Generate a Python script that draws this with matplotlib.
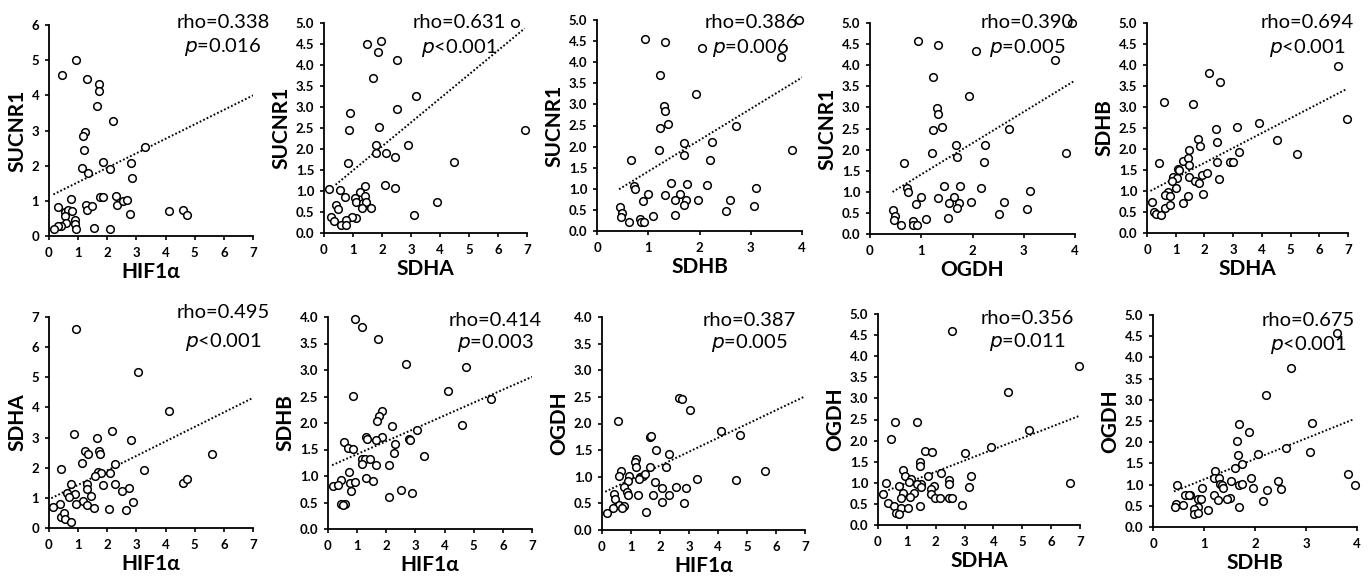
import matplotlib
matplotlib.use("Agg")
import matplotlib.pyplot as plt
import numpy as np

plt.rcParams['font.family'] = ['Lato', 'DejaVu Sans']

# ---------------- data ----------------
# Panel 1: SUCNR1 vs HIF1a
p1_x = [0.92, 0.44, 1.31, 1.70, 1.72, 1.64, 2.19, 1.24, 1.18, 3.28, 1.19, 1.84, 2.82, 1.14, 1.33,
        2.08, 2.86, 0.31, 0.77, 1.75, 1.86, 2.30, 2.32, 2.55, 2.66, 1.26, 1.31, 1.46, 2.78, 4.13,
        4.60, 4.75, 0.56, 0.65, 0.78, 0.54, 0.88, 0.90, 0.60, 0.42, 0.31, 0.17, 0.93, 1.54, 2.09]
p1_y = [5.00, 4.57, 4.47, 4.32, 4.13, 3.70, 3.27, 2.96, 2.84, 2.54, 2.45, 2.10, 2.08, 1.93, 1.80,
        1.90, 1.66, 0.82, 1.04, 1.11, 1.11, 1.13, 0.88, 0.99, 1.01, 0.88, 0.73, 0.85, 0.63, 0.72,
        0.75, 0.59, 0.68, 0.73, 0.70, 0.56, 0.45, 0.35, 0.37, 0.29, 0.29, 0.21, 0.21, 0.22, 0.20]

# Panel 2: SUCNR1 vs SDHA
p2_x = [6.60, 1.47, 1.95, 1.85, 2.53, 1.68, 3.18, 2.51, 0.90, 1.90, 0.87, 6.92, 1.78, 2.89, 1.80,
        2.14, 2.44, 0.83, 4.48, 0.17, 0.56, 1.40, 2.09, 2.44, 0.71, 1.23, 1.07, 1.40, 1.10, 1.33,
        1.44, 1.31, 1.61, 3.89, 0.43, 0.48, 0.25, 0.33, 1.09, 0.97, 0.77, 0.60, 0.77, 3.10]
p2_y = [5.00, 4.49, 4.56, 4.31, 4.13, 3.69, 3.26, 2.96, 2.85, 2.53, 2.45, 2.46, 2.09, 2.09, 1.91,
        1.91, 1.81, 1.67, 1.69, 1.05, 1.02, 1.12, 1.14, 1.08, 0.85, 0.98, 0.83, 0.87, 0.73, 0.71,
        0.73, 0.59, 0.59, 0.73, 0.66, 0.56, 0.39, 0.29, 0.36, 0.38, 0.30, 0.20, 0.20, 0.44]

# Panel 3: SUCNR1 vs SDHB
p3_x = [3.95, 0.93, 1.33, 2.05, 3.59, 1.22, 1.93, 1.30, 1.33, 1.23, 1.39, 2.71, 1.69, 2.24, 1.21,
        1.69, 3.81, 0.67, 2.21, 1.45, 1.76, 2.15, 0.73, 0.75, 3.11, 0.99, 1.33, 1.62, 0.89, 1.53,
        1.74, 1.98, 2.60, 1.69, 3.06, 2.51, 1.52, 0.45, 0.49, 0.46, 0.62, 0.83, 0.86, 0.91, 1.10]
p3_y = [5.00, 4.56, 4.48, 4.34, 4.13, 3.70, 3.25, 2.97, 2.85, 2.45, 2.53, 2.49, 2.09, 2.10, 1.91,
        1.81, 1.93, 1.68, 1.69, 1.14, 1.12, 1.10, 1.06, 0.99, 1.02, 0.87, 0.85, 0.87, 0.71, 0.73,
        0.73, 0.74, 0.74, 0.62, 0.59, 0.47, 0.39, 0.57, 0.43, 0.32, 0.21, 0.28, 0.21, 0.21, 0.35]

# Panel 4: SUCNR1 vs OGDH
p4_x = [3.95, 0.94, 1.33, 2.06, 3.60, 1.22, 1.94, 1.30, 1.33, 1.23, 1.40, 2.72, 1.68, 2.24, 1.20,
        1.70, 3.82, 0.67, 2.22, 1.45, 1.76, 2.16, 0.72, 0.74, 3.12, 0.99, 1.33, 1.63, 0.89, 1.54,
        1.74, 1.98, 2.61, 1.70, 3.06, 2.52, 1.52, 0.45, 0.48, 0.46, 0.60, 0.83, 0.84, 0.91, 1.09]
p4_y = [5.00, 4.57, 4.48, 4.34, 4.13, 3.71, 3.26, 2.99, 2.85, 2.46, 2.54, 2.49, 2.10, 2.11, 1.92,
        1.82, 1.93, 1.69, 1.70, 1.14, 1.13, 1.10, 1.08, 1.00, 1.03, 0.88, 0.85, 0.87, 0.72, 0.74,
        0.74, 0.76, 0.75, 0.62, 0.60, 0.47, 0.39, 0.57, 0.43, 0.33, 0.21, 0.31, 0.21, 0.21, 0.35]

# Panel 5: SDHB vs SDHA
p5_x = [6.65, 2.16, 2.55, 0.58, 1.61, 6.97, 2.42, 3.12, 3.90, 1.79, 2.44, 4.51, 1.86, 1.47, 3.20,
        5.21, 0.43, 1.27, 1.42, 1.46, 2.44, 2.89, 2.98, 1.08, 1.10, 1.46, 0.89, 1.04, 0.86, 2.51,
        1.91, 2.10, 1.68, 1.81, 1.01, 0.73, 0.64, 0.81, 1.96, 1.42, 0.17, 1.24, 0.61, 0.81, 0.23,
        0.32, 0.50]
p5_y = [3.97, 3.82, 3.60, 3.11, 3.06, 2.72, 2.47, 2.52, 2.61, 2.25, 2.16, 2.22, 2.06, 1.98, 1.94,
        1.88, 1.66, 1.72, 1.78, 1.62, 1.69, 1.69, 1.69, 1.52, 1.49, 1.33, 1.34, 1.31, 1.23, 1.28,
        1.38, 1.44, 1.23, 1.20, 1.08, 0.97, 0.91, 0.89, 0.92, 0.87, 0.73, 0.71, 0.59, 0.67, 0.49,
        0.46, 0.44]

# Panel 6: SDHA vs HIF1a
p6_x = [0.92, 3.05, 4.12, 0.85, 2.17, 1.63, 2.80, 1.23, 1.71, 1.33, 1.76, 5.58, 1.12, 2.26, 0.42,
        3.25, 1.68, 1.79, 2.09, 1.58, 0.77, 1.31, 1.84, 2.28, 4.59, 4.73, 1.29, 2.75, 2.51, 0.63,
        0.88, 0.68, 1.45, 1.17, 0.37, 0.92, 1.31, 1.53, 2.05, 2.64, 2.87, 0.14, 0.42, 0.52, 0.56,
        0.77]
p6_y = [6.60, 5.18, 3.89, 3.13, 3.22, 2.99, 2.91, 2.55, 2.56, 2.46, 2.46, 2.44, 2.16, 2.12, 1.97,
        1.92, 1.87, 1.81, 1.84, 1.71, 1.47, 1.47, 1.44, 1.47, 1.49, 1.62, 1.30, 1.34, 1.23, 1.15,
        1.14, 1.03, 1.07, 0.91, 0.80, 0.80, 0.75, 0.67, 0.64, 0.61, 0.87, 0.69, 0.36, 0.49, 0.29,
        0.20]

# Panel 7: SDHB vs HIF1a
p7_x = [0.92, 1.15, 1.72, 2.66, 4.74, 0.87, 4.11, 5.61, 1.84, 1.76, 1.69, 2.19, 4.60, 3.06, 1.30,
        1.33, 1.86, 1.63, 2.79, 2.83, 0.55, 2.31, 0.67, 0.87, 2.27, 3.28, 1.18, 1.26, 1.43, 1.18,
        1.64, 2.08, 0.71, 1.30, 1.53, 0.44, 0.75, 0.93, 0.17, 0.34, 0.78, 2.52, 2.87, 2.08, 0.44,
        0.60, 0.52]
p7_y = [3.97, 3.82, 3.59, 3.11, 3.06, 2.51, 2.61, 2.46, 2.22, 2.13, 2.04, 1.95, 1.97, 1.86, 1.74,
        1.69, 1.74, 1.68, 1.69, 1.68, 1.65, 1.61, 1.53, 1.51, 1.44, 1.38, 1.32, 1.32, 1.32, 1.22,
        1.21, 1.21, 1.07, 0.97, 0.91, 0.92, 0.87, 0.89, 0.81, 0.83, 0.72, 0.73, 0.67, 0.60, 0.47,
        0.48, 0.45]

# Panel 8: OGDH vs HIF1a
p8_x = [0.56, 2.65, 2.77, 3.05, 4.12, 4.75, 1.64, 1.69, 1.86, 2.32, 1.18, 1.13, 1.18, 1.64, 2.20,
        5.62, 0.65, 0.57, 0.92, 1.30, 1.40, 1.47, 1.26, 3.27, 4.61, 0.88, 1.82, 0.76, 2.07, 2.54,
        2.88, 0.86, 0.42, 0.91, 1.23, 1.76, 2.30, 0.44, 0.57, 0.76, 0.68, 0.37, 2.08, 2.82, 0.17,
        1.51]
p8_y = [2.05, 2.47, 2.46, 2.26, 1.86, 1.79, 1.74, 1.76, 1.50, 1.42, 1.34, 1.27, 1.18, 1.18, 1.18,
        1.11, 1.11, 1.02, 1.01, 1.00, 1.02, 1.05, 0.95, 0.96, 0.93, 0.92, 0.90, 0.80, 0.78, 0.80,
        0.78, 0.71, 0.68, 0.66, 0.66, 0.65, 0.66, 0.58, 0.47, 0.46, 0.42, 0.41, 0.53, 0.50, 0.31,
        0.34]

# Panel 9: OGDH vs SDHA
p9_x = [2.55, 6.97, 4.51, 0.60, 1.35, 5.23, 0.46, 3.92, 1.63, 1.87, 3.00, 1.44, 1.47, 0.88, 2.18,
        0.92, 1.74, 3.21, 1.13, 2.46, 1.06, 0.29, 1.48, 2.45, 6.65, 1.34, 1.93, 0.74, 1.48, 3.15,
        1.83, 0.88, 1.25, 0.17, 1.83, 1.12, 0.81, 1.98, 2.14, 2.46, 2.55, 0.35, 0.56, 0.81, 1.04,
        1.46, 2.92, 0.64, 0.72]
p9_y = [4.59, 3.76, 3.14, 2.44, 2.44, 2.24, 2.03, 1.85, 1.76, 1.72, 1.70, 1.49, 1.39, 1.31, 1.23,
        1.16, 1.16, 1.16, 1.09, 1.07, 1.03, 0.99, 0.98, 0.97, 0.99, 0.97, 0.92, 0.92, 0.89, 0.89,
        0.85, 0.77, 0.76, 0.74, 0.74, 0.66, 0.63, 0.63, 0.63, 0.63, 0.63, 0.51, 0.46, 0.40, 0.40,
        0.44, 0.47, 0.29, 0.26]

# Panel 10: OGDH vs SDHB
p10_x = [3.61, 2.71, 2.22, 1.68, 3.11, 1.88, 1.65, 2.61, 1.67, 2.05, 3.07, 1.74, 1.60, 1.22, 1.19,
         1.30, 1.93, 3.82, 1.52, 2.45, 1.31, 1.36, 1.69, 1.74, 3.97, 0.48, 0.96, 1.38, 1.96, 2.51,
         2.24, 0.63, 0.72, 0.71, 1.20, 0.89, 0.94, 1.50, 1.45, 1.28, 2.16, 0.45, 0.43, 0.59, 0.89,
         1.69, 0.80, 0.81, 0.89, 1.08]
p10_y = [4.57, 3.75, 3.12, 2.43, 2.45, 2.24, 2.03, 1.86, 1.69, 1.72, 1.76, 1.48, 1.40, 1.31, 1.16,
         1.15, 1.16, 1.24, 1.09, 1.09, 1.02, 0.98, 0.98, 1.01, 0.99, 1.00, 0.93, 0.92, 0.91, 0.89,
         0.87, 0.76, 0.76, 0.75, 0.75, 0.67, 0.67, 0.68, 0.65, 0.63, 0.62, 0.54, 0.46, 0.51, 0.47,
         0.47, 0.42, 0.30, 0.32, 0.39]

x_labels = ["HIF1\u03b1", "SDHA", "SDHB", "OGDH", "SDHA",
            "HIF1\u03b1", "HIF1\u03b1", "HIF1\u03b1", "SDHA", "SDHB"]
y_labels = ["SUCNR1", "SUCNR1", "SUCNR1", "SUCNR1", "SDHB",
            "SDHA", "SDHB", "OGDH", "OGDH", "OGDH"]
rho_texts = ["rho=0.338", "rho=0.631", "rho=0.386", "rho=0.390", "rho=0.694",
             "rho=0.495", "rho=0.414", "rho=0.387", "rho=0.356", "rho=0.675"]
p_texts = ["=0.016", "<0.001", "=0.006", "=0.005", "<0.001",
           "<0.001", "=0.003", "=0.005", "=0.011", "<0.001"]
# trend line (slope, intercept, x start, x end)
trend_slope = [0.411, 0.571, 0.742, 0.742, 0.355, 0.481, 0.243, 0.260, 0.266, 0.483]
trend_intercept = [1.12, 0.92, 0.67, 0.67, 0.96, 0.95, 1.17, 0.69, 0.73, 0.64]
trend_x0 = [0.15, 0.40, 0.43, 0.44, 0.12, 0.08, 0.14, 0.11, 0.23, 0.41]
trend_x1 = [7.0, 6.92, 4.0, 4.0, 6.97, 7.0, 7.0, 7.0, 7.0, 3.93]
x_max = [7, 7, 4, 4, 7, 7, 7, 7, 7, 4]
y_max = [6, 5, 5, 5, 5, 7, 4, 4, 5, 5]
y_step = [1, 0.5, 0.5, 0.5, 0.5, 1, 0.5, 0.5, 0.5, 0.5]

xs = [p1_x, p2_x, p3_x, p4_x, p5_x, p6_x, p7_x, p8_x, p9_x, p10_x]
ys = [p1_y, p2_y, p3_y, p4_y, p5_y, p6_y, p7_y, p8_y, p9_y, p10_y]

# ---------------- layout (pixels) ----------------
W, H = 1370, 576
rects_px = [(49, 236, 253, 25), (324, 233, 527, 23), (597, 231, 802, 20), (870, 234, 1075, 23),
            (1147, 233, 1348, 23), (49, 528, 253, 317), (328, 529, 532, 317), (602, 530, 805, 317),
            (878, 525, 1080, 314), (1153, 527, 1357, 315)]
text_px = [(223, 22, 47), (459, 22, 48), (751, 22, 48), (1027, 22, 48), (1307, 22, 48),
           (223, 312, 342), (495, 320, 343), (749, 320, 343), (1027, 318, 342), (1308, 320, 345)]

fig = plt.figure(figsize=(W / 100, H / 100), dpi=100)

for i in range(10):
    l, b, r, t = rects_px[i]
    ax = fig.add_axes([l / W, 1 - b / H, (r - l) / W, (b - t) / H])
    ax.plot(xs[i], ys[i], 'o', ms=5.5, mfc='white', mec='black', mew=1.1, clip_on=False, zorder=3)
    tx = np.array([trend_x0[i], trend_x1[i]])
    ax.plot(tx, trend_slope[i] * tx + trend_intercept[i], color='black', lw=1.4,
            linestyle=(0, (0.9, 1.1)), zorder=2)
    ax.set_xlim(0, x_max[i])
    ax.set_ylim(0, y_max[i])
    ax.set_xticks(np.arange(0, x_max[i] + 0.01, 1))
    yt = np.arange(0, y_max[i] + 0.001, y_step[i])
    ax.set_yticks(yt)
    if y_step[i] < 1:
        ax.set_yticklabels([f"{v:.1f}" for v in yt])
    else:
        ax.set_yticklabels([f"{int(v)}" for v in yt])
    for s in ['top', 'right']:
        ax.spines[s].set_visible(False)
    for s in ['left', 'bottom']:
        ax.spines[s].set_linewidth(1.3)
    ax.tick_params(direction='out', length=3, width=1.2, labelsize=9.5)
    ax.tick_params(axis='x', pad=5)
    ax.tick_params(axis='y', pad=4)
    for lab in ax.get_xticklabels() + ax.get_yticklabels():
        lab.set_fontweight('bold')
    ax.set_xlabel(x_labels[i], fontsize=15, fontweight='bold', labelpad=2)
    ax.set_ylabel(y_labels[i], fontsize=15, fontweight='bold', labelpad=3)
    ax.patch.set_alpha(0)

    cx, y1, y2 = text_px[i]
    fig.text(cx / W, 1 - y1 / H, rho_texts[i], ha='center', va='center', fontsize=14.5)
    fig.text(cx / W, 1 - y2 / H, r"$\it{p}$" + p_texts[i], ha='center', va='center', fontsize=14.5)

fig.savefig("out.png", dpi=100)
